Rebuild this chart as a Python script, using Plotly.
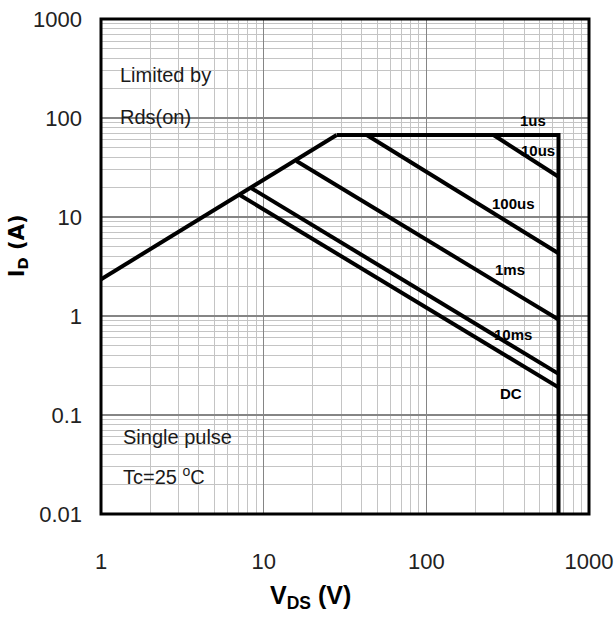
import numpy as np
import plotly.graph_objects as go

# Safe operating area, log-log, single pulse at Tc = 25 °C
# On-resistance limit (I = V / Rds(on)) up to the package current limit
rds_v = [1, 28.1]
rds_i = [2.35, 67.3]

# 1 us envelope: current limit, then the breakdown voltage limit
env_v = [28.1, 650, 650]
env_i = [67.3, 67.3, 0.01]

# Constant-power segments for each pulse width
pulse_names = ["10us", "100us", "1ms", "10ms", "DC"]
pulse_v = [[259, 650], [43, 650], [15.9, 650], [8.42, 650], [7.13, 650]]
pulse_i = [[67.3, 25.5], [67.3, 4.3], [36.8, 0.92], [19.5, 0.26], [16.7, 0.19]]

label_texts = ["1us", "10us", "100us", "1ms", "10ms", "DC"]

x_tickvals = [1, 10, 100, 1000]
x_ticktext = ["1", "10", "100", "1000"]
y_tickvals = [0.01, 0.1, 1, 10, 100, 1000]
y_ticktext = ["0.01", "0.1", "1", "10", "100", "1000"]

SANS = "Liberation Sans, Arial, sans-serif"
LINE = dict(color="black", width=4)

fig = go.Figure()
fig.add_trace(go.Scatter(x=rds_v, y=rds_i, mode="lines", line=LINE,
                         hoverinfo="skip", showlegend=False))
fig.add_trace(go.Scatter(x=env_v, y=env_i, mode="lines", line=LINE,
                         hoverinfo="skip", showlegend=False))
for name, v, i in zip(pulse_names, pulse_v, pulse_i):
    fig.add_trace(go.Scatter(x=v, y=i, mode="lines", line=LINE, name=name,
                             hoverinfo="skip", showlegend=False))

# where each curve label sits (V, I)
label_spots = [(456, 95), (489, 47.5), (343, 13.6), (329, 2.95), (343, 0.65), (333, 0.165)]
for txt, (lv, li) in zip(label_texts, label_spots):
    fig.add_annotation(x=np.log10(lv), y=np.log10(li), xref="x", yref="y",
                       text=f"<b>{txt}</b>", showarrow=False,
                       xanchor="center", yanchor="middle",
                       font=dict(family=SANS, size=15, color="black"))

TEXT_FONT = dict(family=SANS, size=20, color="#1a1a1a")

# free text blocks
fig.add_annotation(x=0.034, y=0.886, xref="paper", yref="paper",
                   xanchor="left", yanchor="middle",
                   text="Limited by", showarrow=False, font=TEXT_FONT)
fig.add_annotation(x=0.034, y=0.803, xref="paper", yref="paper",
                   xanchor="left", yanchor="middle",
                   text="Rds(on)", showarrow=False, font=TEXT_FONT)

# white panel behind the test conditions
fig.add_shape(type="rect", xref="paper", yref="paper",
              x0=0.041, x1=0.324, y0=0.043, y1=0.205,
              fillcolor="white", line=dict(width=0), layer="between")
fig.add_annotation(x=0.041, y=0.155, xref="paper", yref="paper",
                   xanchor="left", yanchor="middle",
                   text="Single pulse", showarrow=False, font=TEXT_FONT)
fig.add_annotation(x=0.041, y=0.078, xref="paper", yref="paper",
                   xanchor="left", yanchor="middle",
                   text="Tc=25 <sup>o</sup>C", showarrow=False, font=TEXT_FONT)

# axis titles
fig.add_annotation(x=-0.170, y=0.541, xref="paper", yref="paper",
                   text="<b>I<sub>D</sub> (A)</b>", textangle=-90, showarrow=False,
                   font=dict(family="DejaVu Sans, sans-serif", size=21, color="black"),
                   xanchor="center", yanchor="middle")
fig.add_annotation(x=0.430, y=-0.168, xref="paper", yref="paper",
                   text="<b>V<sub>DS</sub> (V)</b>", showarrow=False,
                   font=dict(family=SANS, size=25, color="black"),
                   xanchor="center", yanchor="middle")

# frame
fig.add_shape(type="rect", xref="paper", yref="paper", x0=0, x1=1, y0=0, y1=1,
              line=dict(color="black", width=3), layer="above")

grid_major = "#858585"
grid_minor = "#c4c4c4"
TICK_FONT = dict(family=SANS, size=22, color="#222")
fig.update_xaxes(type="log", range=[-0.0005, 3.0005], tickvals=x_tickvals, ticktext=x_ticktext,
                 showgrid=True, gridcolor=grid_major, gridwidth=1.2,
                 minor=dict(dtick="D1", showgrid=True, gridcolor=grid_minor, gridwidth=1),
                 ticks="", showline=False, zeroline=False, ticklabelstandoff=32,
                 automargin=False, tickfont=TICK_FONT)
fig.update_yaxes(type="log", range=[-2.0005, 3.0005], tickvals=y_tickvals, ticktext=y_ticktext,
                 showgrid=True, gridcolor=grid_major, gridwidth=1.5,
                 minor=dict(dtick="D1", showgrid=True, gridcolor=grid_minor, gridwidth=1),
                 ticks="", showline=False, zeroline=False, ticklabelstandoff=18,
                 automargin=False, tickfont=TICK_FONT)

fig.update_layout(width=616, height=618, plot_bgcolor="white", paper_bgcolor="white",
                  margin=dict(l=101, r=27, t=19, b=104))

fig.write_html("out.html")
